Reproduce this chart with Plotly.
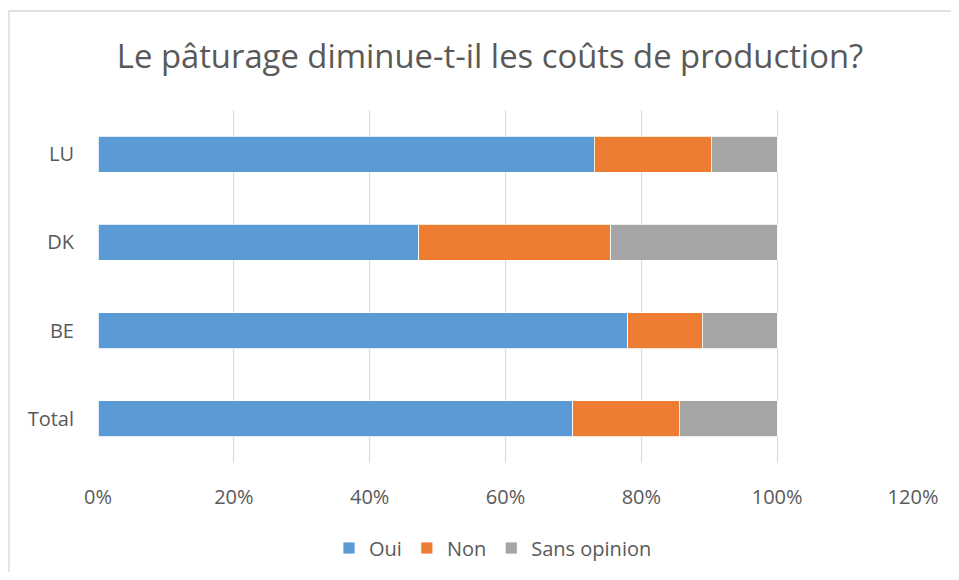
import plotly.graph_objects as go

categories = ["Total", "BE", "DK", "LU"]
oui = [0.699, 0.780, 0.472, 0.731]
non = [0.157, 0.110, 0.283, 0.172]
sans_opinion = [0.144, 0.110, 0.245, 0.097]
tick_vals = [0, 0.2, 0.4, 0.6, 0.8, 1.0, 1.2]
tick_text = ["0%", "20%", "40%", "60%", "80%", "100%", "120%"]

FONT = "Open Sans"
TXT = "#595959"

# page body has an 8px margin: figure origin sits at (8, 8) in the window
W, H = 943, 564
fig = go.Figure()
for name, vals, col in [("Oui", oui, "#5B9BD5"), ("Non", non, "#ED7D31"),
                        ("Sans opinion", sans_opinion, "#A5A5A5")]:
    fig.add_trace(go.Bar(y=categories, x=vals, name=name, orientation="h",
                         marker=dict(color=col, line=dict(color="white", width=0.8))))

plot_l, plot_r, plot_t, plot_b = 90, 905, 102, 455
fig.update_layout(
    barmode="stack",
    bargap=0.59,
    width=W, height=H,
    margin=dict(l=plot_l, r=W - plot_r, t=plot_t, b=H - plot_b, autoexpand=False),
    paper_bgcolor="white", plot_bgcolor="white",
    font=dict(family=FONT, color=TXT, size=20),
    title=dict(text="Le pâturage diminue-t-il les coûts de production?",
               x=(490 - 8 - plot_l) / (plot_r - plot_l), xref="paper", xanchor="center",
               y=1 - 49 / H, yref="container",
               yanchor="middle", font=dict(size=32.8, color=TXT, family=FONT)),
    xaxis=dict(range=[0, 1.2], tickvals=tick_vals, ticktext=tick_text,
               showgrid=True, gridcolor="#D9D9D9", gridwidth=1.3, zeroline=False,
               showline=False, ticks="", ticklabelstandoff=20, automargin=False,
               tickfont=dict(size=20, color=TXT)),
    yaxis=dict(showgrid=False, zeroline=False, showline=False, ticks="",
               ticklabelstandoff=23, automargin=False, tickfont=dict(size=20, color=TXT)),
    legend=dict(orientation="h", x=(493 - 8 - plot_l) / (plot_r - plot_l), xanchor="center",
                yref="container", y=1 - (548 - 8) / H, yanchor="middle",
                font=dict(size=20, color=TXT), traceorder="normal",
                itemwidth=30, bgcolor="rgba(0,0,0,0)"),
    shapes=[dict(type="rect", xref="paper", yref="paper",
                 x0=(9 - 8 - plot_l) / (plot_r - plot_l), x1=1.2, y0=-0.6,
                 y1=(plot_b - 3) / (plot_b - plot_t),
                 line=dict(color="#D9D9D9", width=1.3), layer="below")],
)

fig.write_html("out.html")
